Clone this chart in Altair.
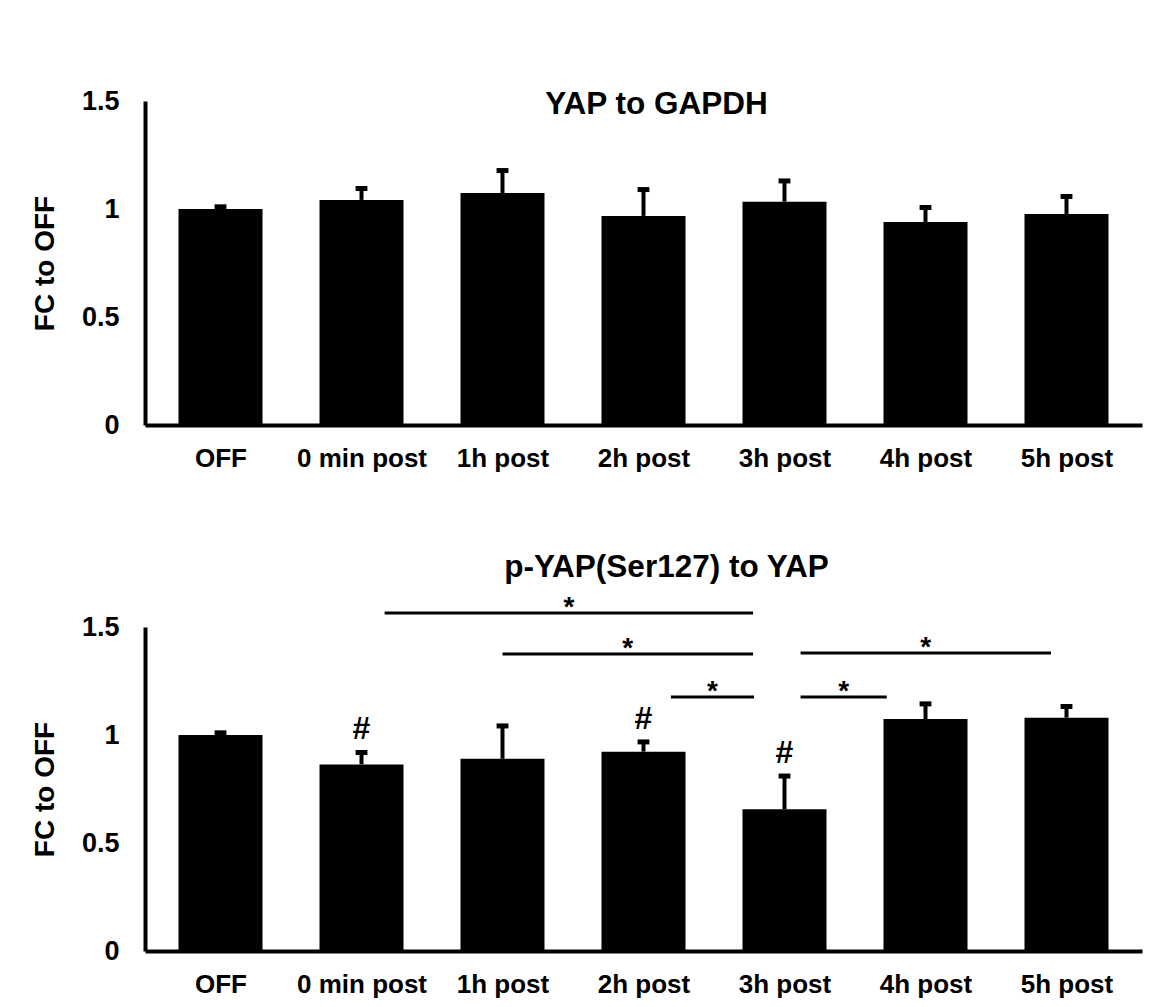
import altair as alt
import pandas as pd

categories = ["OFF", "0 min post", "1h post", "2h post", "3h post", "4h post", "5h post"]

yap_mean = [1.00, 1.042, 1.074, 0.968, 1.034, 0.940, 0.977]
yap_err = [0.01, 0.053, 0.104, 0.122, 0.096, 0.067, 0.081]

pyap_mean = [1.00, 0.864, 0.890, 0.923, 0.656, 1.074, 1.080]
pyap_err = [0.01, 0.055, 0.152, 0.045, 0.154, 0.070, 0.052]
pyap_hash = [False, True, False, True, True, False, False]

# significance brackets (positions in category-index units, height in y units)
br_start = [1.164, 2.0, 3.194, 4.114, 4.114]
br_end = [3.777, 3.777, 3.784, 5.89, 4.725]
br_level = [1.565, 1.375, 1.176, 1.380, 1.176]

FONT = "Liberation Sans"
label_expr = "[" + ",".join("'" + c + "'" for c in categories) + "][datum.value]"

W, H = 997, 324


def panel(title, means, errs, hashes=None, brackets=None, title_offset=-12, title_dx=12):
    df = pd.DataFrame({
        "i": list(range(len(categories))),
        "cat": categories,
        "mean": means,
        "err": errs,
        "hash": hashes if hashes is not None else [False] * len(categories),
    })
    base = alt.Chart(df).transform_calculate(
        upper="datum.mean + datum.err",
        capL="datum.i - 0.042",
        capR="datum.i + 0.042",
    )
    xscale = alt.Scale(domain=[-0.5, 6.5], nice=False, zero=False)
    yscale = alt.Scale(domain=[0, 1.5], nice=False)
    xaxis = alt.Axis(values=list(range(len(categories))), labelExpr=label_expr,
                     ticks=False, grid=False, domainColor="black", domainWidth=4,
                     labelFont=FONT, labelFontSize=26, labelFontWeight="bold",
                     labelColor="black", labelPadding=20)
    yaxis = alt.Axis(values=[0, 0.5, 1, 1.5], format="~g", ticks=False, grid=False,
                     domainColor="black", domainWidth=4,
                     labelFont=FONT, labelFontSize=27, labelFontWeight="bold",
                     labelColor="black", labelPadding=26,
                     titleFont=FONT, titleFontSize=28, titleFontWeight="bold",
                     titleColor="black", titlePadding=22)

    bars = base.mark_bar(color="black", size=84).encode(
        x=alt.X("i:Q", scale=xscale, axis=xaxis, title=None),
        y=alt.Y("mean:Q", scale=yscale, axis=yaxis, title="FC to OFF"),
    )
    stem = base.mark_rule(color="black", strokeWidth=4).encode(
        x="i:Q", y="mean:Q", y2="upper:Q")
    cap = base.mark_rule(color="black", strokeWidth=5).encode(
        x="capL:Q", x2="capR:Q", y="upper:Q")
    layers = [bars, stem, cap]

    if hashes is not None:
        hs = base.transform_filter("datum.hash").mark_text(
            text="#", font=FONT, fontSize=32, fontWeight="bold", color="black",
            baseline="alphabetic", dy=-13).encode(x="i:Q", y="upper:Q")
        layers.append(hs)

    if brackets is not None:
        bdf = pd.DataFrame({"s": brackets[0], "e": brackets[1], "lvl": brackets[2]})
        bb = alt.Chart(bdf).transform_calculate(mid="(datum.s + datum.e) / 2")
        lines = bb.mark_rule(color="black", strokeWidth=3).encode(
            x="s:Q", x2="e:Q", y="lvl:Q")
        stars = bb.mark_text(text="*", font=FONT, fontSize=28, fontWeight="bold",
                             color="black", baseline="alphabetic", dy=3).encode(
            x="mid:Q", y="lvl:Q")
        layers += [lines, stars]

    return alt.layer(*layers).properties(
        width=W, height=H,
        title=alt.TitleParams(title, font=FONT, fontSize=31.5, fontWeight="bold",
                              color="black", anchor="middle", baseline="alphabetic",
                              offset=title_offset, dx=title_dx),
    )


top = panel("YAP to GAPDH", yap_mean, yap_err, title_offset=-58, title_dx=13)
bottom = panel("p-YAP(Ser127) to YAP", pyap_mean, pyap_err, hashes=pyap_hash,
               brackets=(br_start, br_end, br_level), title_offset=-15, title_dx=23)

chart = alt.vconcat(top, bottom, spacing=81).properties(
    padding={"left": 23, "top": 79, "right": 5, "bottom": 5},
    background="white",
).configure_view(stroke=None)

chart.save("out.html", embed_options={"renderer": "svg", "actions": False})
